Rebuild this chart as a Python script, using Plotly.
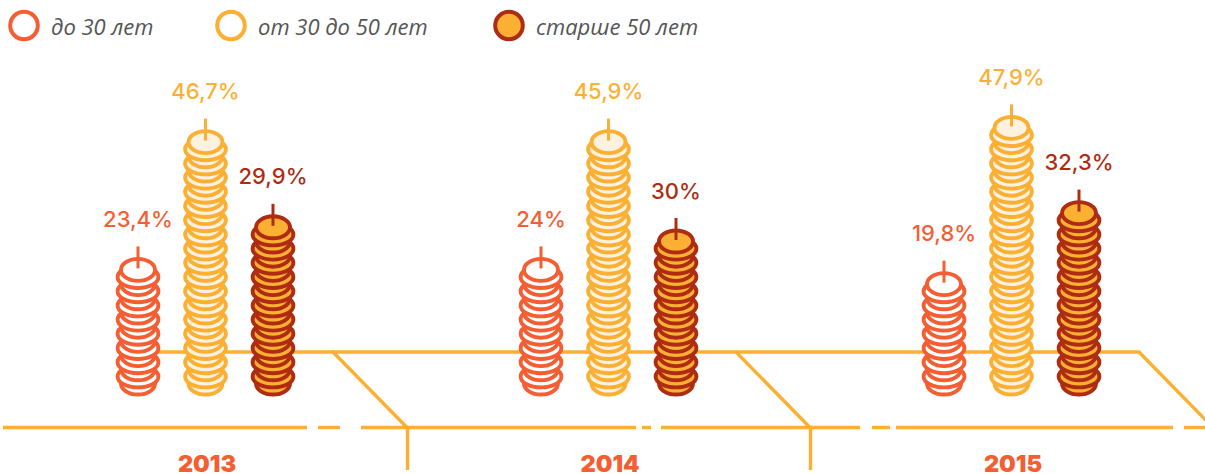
import plotly.graph_objects as go

years = ["2013", "2014", "2015"]
series_names = ["до 30 лет", "от 30 до 50 лет", "старше 50 лет"]
values_young = ["23,4%", "24%", "19,8%"]
values_middle = ["46,7%", "45,9%", "47,9%"]
values_senior = ["29,9%", "30%", "32,3%"]
coins_young = [17, 17, 15]
coins_middle = [35, 35, 37]
coins_senior = [23, 21, 25]

RED, YEL, DARK = "#F45E32", "#FBB034", "#AE2C12"
series = [
    (values_young, coins_young, RED, "#FFFFFF", RED),
    (values_middle, coins_middle, YEL, "#FDF1DF", YEL),
    (values_senior, coins_senior, DARK, YEL, DARK),
]

W, H = 1205, 474
BASE = 396
PITCH = 7.1
RY = 11.0
RX_N, RX_W = 17.0, 20.4
GROUP0, GROUP_STEP, BAR_STEP = 205.5, 403, 67.5

shapes = []
LW = 3.9


def line(x0, y0, x1, y1, color=YEL, w=3.4):
    shapes.append(dict(type="line", x0=x0, y0=y0, x1=x1, y1=y1, layer="above",
                       line=dict(color=color, width=w)))


# timeline
line(140, 352, 1138, 352)
for i in range(3):
    d = GROUP_STEP * i
    line(332 + d, 351, 407 + d, 427.5)
for x0, x1 in [(3, 307), (318, 340), (361, 636), (642, 651), (661, 860),
               (872, 890), (896, 1173), (1184, 1205)]:
    line(x0, 427.5, x1, 427.5)
for x in (407.5, 810.5):
    line(x, 427.5, x, 470)

# stacks
fig = go.Figure()
for s, (vals, coins, stroke, fill, txt) in enumerate(series):
    xs, ys = [], []
    for g, n in enumerate(coins):
        cx = GROUP0 + GROUP_STEP * g + (s - 1) * BAR_STEP
        for k in range(n):
            cy = BASE - RY - 1.5 - k * PITCH
            rx = RX_N if k % 2 == 0 else RX_W
            shapes.append(dict(type="circle", x0=cx - rx, x1=cx + rx, y0=cy - RY, y1=cy + RY,
                               layer="above", fillcolor=fill, line=dict(color=stroke, width=LW)))
        top = BASE - 2 * RY - 3 - (n - 1) * PITCH
        line(cx, top - 11, cx, top + 11, stroke, 3)
        xs.append(cx)
        ys.append(top - 36)
    fig.add_trace(go.Scatter(x=xs, y=ys, mode="text", text=vals, name=series_names[s], hoverinfo="skip",
                             textposition="middle center",
                             textfont=dict(family="Inter", size=22, color=txt, weight=500)))

# years
fig.add_trace(go.Scatter(x=[GROUP0 + GROUP_STEP * i + 1.5 for i in range(3)], y=[466] * 3, mode="text",
                         text=years, hoverinfo="skip", textposition="middle center",
                         cliponaxis=False,
                         textfont=dict(family="Inter", size=23.5, color=RED, weight=900)))

# legend
annotations = []
for name, lx, tx, stroke, fill in zip(series_names, (24, 231, 509), (49, 256, 534),
                                      (RED, YEL, DARK), ("#FFFFFF", "#FFFFFF", YEL)):
    shapes.append(dict(type="circle", x0=lx - 13.8, x1=lx + 13.8, y0=25.5 - 13.8, y1=25.5 + 13.8,
                       fillcolor=fill, line=dict(color=stroke, width=4)))
    annotations.append(dict(x=tx, y=25.5, text=name, showarrow=False, xanchor="left", yanchor="middle",
                            xref="x", yref="y",
                            font=dict(family="Open Sans", size=22, color="#555555", style="italic")))

fig.update_layout(
    width=W, height=H, margin=dict(l=0, r=0, t=0, b=0), showlegend=False,
    paper_bgcolor="white", plot_bgcolor="white", shapes=shapes, annotations=annotations,
    xaxis=dict(range=[0, W], visible=False, fixedrange=True),
    yaxis=dict(range=[H, 0], visible=False, fixedrange=True),
)
fig.write_html("out.html", config=dict(displayModeBar=False),
               post_script="document.body.style.margin='0';document.documentElement.style.overflow='hidden';")
